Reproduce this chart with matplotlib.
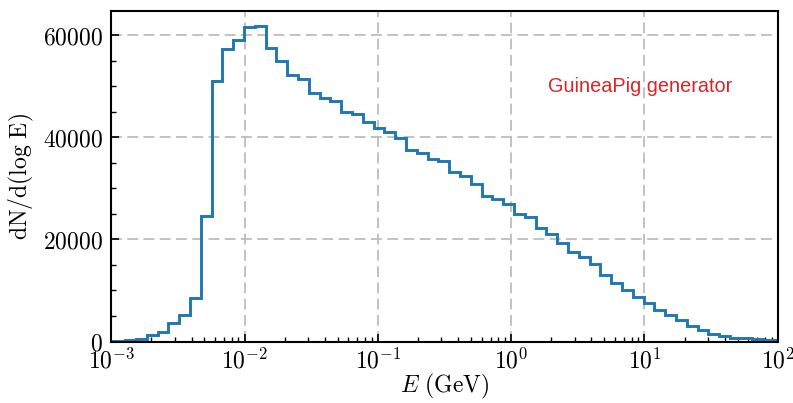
import numpy as np
import matplotlib
matplotlib.use("Agg")
import matplotlib.pyplot as plt
from matplotlib.ticker import FuncFormatter, MultipleLocator, LogLocator

plt.rcParams['mathtext.fontset'] = 'cm'
plt.rcParams['font.family'] = ['DejaVu Serif']

# histogram bin edges (log10 E, GeV) and counts
log_e_min = -3.058
log_e_max = 2.0475
counts = [30, 80, 230, 430, 1270, 1920, 3600, 5200, 8450, 24630,
          50950, 57200, 59000, 61600, 61850, 57390, 54840, 52230, 51390, 48700,
          47750, 47050, 44880, 44530, 42920, 41780, 40930, 39800, 37450, 36890,
          35650, 35420, 33100, 32400, 30800, 28550, 27800, 26850, 24960, 24400,
          22200, 20950, 19250, 17550, 16510, 15200, 13100, 11450, 10100, 8780,
          7610, 6250, 5100, 4150, 3040, 2200, 1550, 1000, 750, 600,
          430, 300, 200]
edges = np.logspace(log_e_min, log_e_max, len(counts) + 1)

title = r'$\mathrm{Pair\ energy\ spectrum}$'
xlabel = r'$E\ \mathrm{(GeV)}$'
ylabel = r'$\mathrm{dN/d(log\ E)}$'
annotation = 'GuineaPig generator'

fig = plt.figure(figsize=(7.93, 4.03), dpi=100)
ax = fig.add_axes([0.1403, 0.1526, 0.8405, 0.8201])

ax.stairs(counts, edges, color='#1f77b4', linewidth=2.1)

ax.set_xscale('log')
ax.set_xlim(1e-3, 1e2)
ax.set_ylim(0, 64700)

ax.yaxis.set_major_locator(MultipleLocator(20000))
ax.yaxis.set_minor_locator(MultipleLocator(5000))
ax.yaxis.set_major_formatter(FuncFormatter(lambda v, p: r'$%d$' % int(v)))
ax.xaxis.set_major_locator(LogLocator(base=10, numticks=10))
ax.xaxis.set_minor_locator(LogLocator(base=10, subs=np.arange(2, 10), numticks=20))
ax.xaxis.set_major_formatter(FuncFormatter(lambda v, p: r'$10^{%d}$' % int(round(np.log10(v)))))

ax.tick_params(axis='both', which='both', direction='in', labelsize=17,
               top=False, right=False)
ax.tick_params(axis='y', which='major', length=6, width=1.2, pad=6)
ax.tick_params(axis='x', which='major', length=6, width=1.2, pad=5)
ax.tick_params(axis='both', which='minor', length=3.5, width=1.0)

for s in ax.spines.values():
    s.set_linewidth(1.5)
    s.set_color('black')

ax.grid(True, which='major', color='#bdbdbd', linewidth=1.3,
        linestyle=(0, (6, 3)))
ax.set_axisbelow(True)

ax.set_xlabel(xlabel, fontsize=17, labelpad=-1)
ax.set_ylabel(ylabel, fontsize=17, labelpad=5)
ax.set_title(title, fontsize=17, pad=12)

ax.text(0.656, 0.773, annotation, transform=ax.transAxes, color='#d62728',
        fontsize=14.3, family=['Liberation Sans', 'DejaVu Sans'],
        ha='left', va='center')

fig.savefig('out.png', dpi=100)
